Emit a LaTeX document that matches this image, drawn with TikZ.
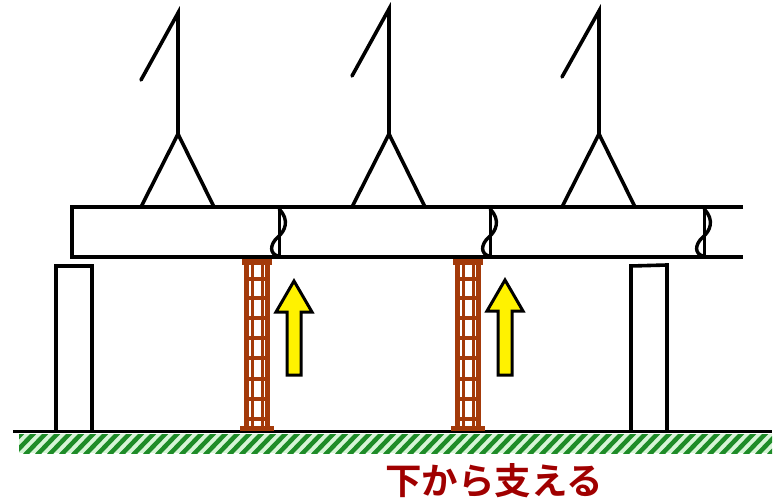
\documentclass[tikz,border=0pt]{standalone}
\usepackage{fontspec}
\newfontfamily\jpfont{Noto Sans CJK JP}[BoldFont={* Bold}]
\definecolor{ladderbrown}{RGB}{163,58,10}
\definecolor{labelred}{RGB}{160,0,0}
\definecolor{grassdark}{RGB}{30,140,40}
\definecolor{grasslight}{RGB}{215,245,215}
\tikzset{
  line/.style={line width=3.6pt, black},
  crane/.style={line width=3.6pt, black, line cap=round},
  rail/.style={ladderbrown, line width=4.4pt},
  innerrail/.style={ladderbrown, line width=3pt},
  rung/.style={ladderbrown, line width=3.8pt},
  liftarrow/.style={fill=yellow, draw=black, line width=3pt, line join=miter},
}
\begin{document}
\begin{tikzpicture}[x=1pt,y=-1pt]
  \useasboundingbox (0,0) rectangle (774,503);

  % ground hatching
  \begin{scope}
    \clip (19,434) rectangle (772,453);
    \fill[grasslight] (19,434) rectangle (772,453);
    \foreach \s in {0,12,...,780}
      \draw[grassdark, line width=4.5pt] (\s,456) -- (\s+24,431);
  \end{scope}
  \draw[line] (13,431.5) -- (772,431.5);

  % supporting pillars
  \draw[line] (56,432) -- (56,266) -- (92,266) -- (92,432);
  \draw[line] (631,432) -- (631,266) -- (667,265) -- (667,432);

  % beam
  \draw[line] (743,207) -- (72,207) -- (72,257) -- (743,257);

  % splice marks on the beam
  \foreach \xs in {279,490,704} {
    \draw[line width=3pt] (\xs,207) -- (\xs,257);
    \draw[line width=3.4pt, line cap=round] (\xs,209) .. controls (\xs+11,220) and (\xs+6,231) .. (\xs-1,237)
      .. controls (\xs-10,245) and (\xs-9,254) .. (\xs-1,256);
  }

  % cranes hanging the beam
  \foreach \cx/\ty/\dy in {178/13/80, 389/9/76, 599/11/77} {
    \coordinate (apex) at (\cx,134);
    \draw[crane] (\cx-37,\dy) -- (\cx,\ty) -- (apex);
    \draw[crane, line cap=butt] (\cx-37,207) -- (apex) -- (\cx+36,207);
  }

  % shoring ladders
  \foreach \c in {257,468} {
    \fill[ladderbrown] (\c-15,259) rectangle (\c+15,265);
    \fill[ladderbrown] (\c-17,426) rectangle (\c+17,431);
    \draw[rail] (\c-10.5,263) -- (\c-10.5,428);
    \draw[rail] (\c+10.5,263) -- (\c+10.5,428);
    \draw[innerrail] (\c-5,263) -- (\c-5,428);
    \draw[innerrail] (\c+5,263) -- (\c+5,428);
    \foreach \ry in {279,298,318,338,358,379,399,419}
      \draw[rung] (\c-12,\ry) -- (\c+12,\ry);
  }

  % lifting arrows
  \foreach \ax/\ty in {294/281, 505/280} {
    \draw[liftarrow] (\ax,\ty) -- (\ax+18,\ty+31) -- (\ax+7,\ty+31) -- (\ax+7,375)
      -- (\ax-7,375) -- (\ax-7,\ty+31) -- (\ax-18,\ty+31) -- cycle;
  }

  % caption
  \node[text=labelred, font=\jpfont\bfseries\fontsize{36.5}{40}\selectfont, inner sep=0pt]
    (caption) at (494,481) {下から支える};
\end{tikzpicture}
\end{document}
